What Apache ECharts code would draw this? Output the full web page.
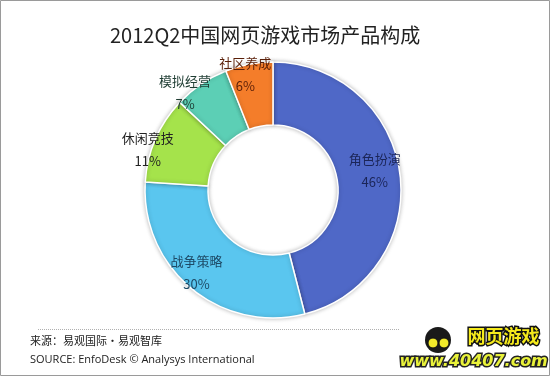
<!DOCTYPE html>
<html>
<head>
<meta charset="utf-8">
<script src="https://cdn.jsdelivr.net/npm/echarts@6/dist/echarts.min.js"></script>
<style>
  html, body { margin: 0; padding: 0; background: #fff; }
  #chart { width: 550px; height: 376px; }
</style>
</head>
<body>
<div id="chart"></div>
<script>
// 類別與數值（百分比）
const categories = ['角色扮演', '战争策略', '休闲竞技', '模拟经营', '社区养成'];
const shares = [46, 30, 11, 7, 6];
const sliceColors = ['#4f68c7', '#5ac6ef', '#a5e34b', '#5ccfb5', '#f47d2a'];
const labelColors = ['#1b2557', '#1d4a66', '#222222', '#1f3d33', '#5a1f08'];
// 標籤微調
const labelOffsets = [[3, -7], [-13, 6], [-34, -1], [-32, -15], [-9, -18]];

const chart = echarts.init(document.getElementById('chart'), null, { renderer: 'canvas' });

const fontCJK = '"Microsoft YaHei", "Noto Sans CJK SC", sans-serif';

const seriesData = categories.map((name, i) => ({
  name: name,
  value: shares[i],
  itemStyle: { color: sliceColors[i] },
  label: { color: labelColors[i], offset: labelOffsets[i] },
}));

const option = {
  backgroundColor: '#fff',
  animation: false,
  title: {
    text: '2012Q2中国网页游戏市场产品构成',
    left: 105,
    top: 20,
    textStyle: {
      fontFamily: fontCJK,
      fontSize: 20,
      fontWeight: 'normal',
      color: '#222',
    },
  },
  series: [
    {
      type: 'pie',
      center: [273, 190],
      radius: [65, 128],
      startAngle: 90,
      clockwise: true,
      itemStyle: {
        borderColor: '#fff',
        borderWidth: 1.5,
        shadowColor: 'rgba(0,0,0,0.25)',
        shadowBlur: 4,
      },
      label: {
        show: true,
        position: 'inside',
        fontFamily: fontCJK,
        fontSize: 13,
        lineHeight: 23,
        formatter: (p) => `${p.name}\n${p.value}%`,
      },
      labelLine: { show: false },
      emphasis: { disabled: true },
      data: seriesData,
    },
  ],
  graphic: [
    // 外框
    {
      type: 'rect',
      shape: { x: 0.5, y: 0.5, width: 549, height: 375 },
      style: { fill: 'none', stroke: '#9a9a9a', lineWidth: 1 },
    },
    // 虛線分隔
    {
      type: 'line',
      shape: { x1: 38, y1: 329.5, x2: 400, y2: 329.5 },
      style: { stroke: '#b0b0b0', lineWidth: 1, lineDash: [1, 1] },
    },
    {
      type: 'text',
      left: 30,
      top: 335,
      style: { text: '来源：易观国际·易观智库', font: '11px ' + fontCJK, fill: '#222' },
    },
    {
      type: 'text',
      left: 30,
      top: 354,
      style: { text: 'SOURCE: EnfoDesk © Analysys International', font: '11px "Open Sans", sans-serif', fill: '#222' },
    },
    // logo
    {
      type: 'circle',
      shape: { cx: 438, cy: 340, r: 13 },
      style: { fill: '#1a1a1a' },
    },
    {
      type: 'circle',
      shape: { cx: 433, cy: 343, r: 5 },
      style: { fill: '#f2ea2a', stroke: '#111', lineWidth: 1 },
    },
    {
      type: 'circle',
      shape: { cx: 444, cy: 343, r: 5 },
      style: { fill: '#f2ea2a', stroke: '#111', lineWidth: 1 },
    },
    {
      type: 'text',
      left: 466,
      top: 326,
      style: {
        text: '网页游戏',
        font: 'bold 18px ' + fontCJK,
        fill: '#f5ea1c',
        stroke: '#111',
        lineWidth: 3,
      },
    },
    {
      type: 'text',
      left: 398,
      top: 352,
      style: {
        text: 'www.40407.com',
        font: 'italic bold 16px "DejaVu Sans", sans-serif',
        fill: '#e9f23a',
        stroke: '#222',
        lineWidth: 3,
      },
    },
  ],
};

chart.setOption(option);
</script>
</body>
</html>
